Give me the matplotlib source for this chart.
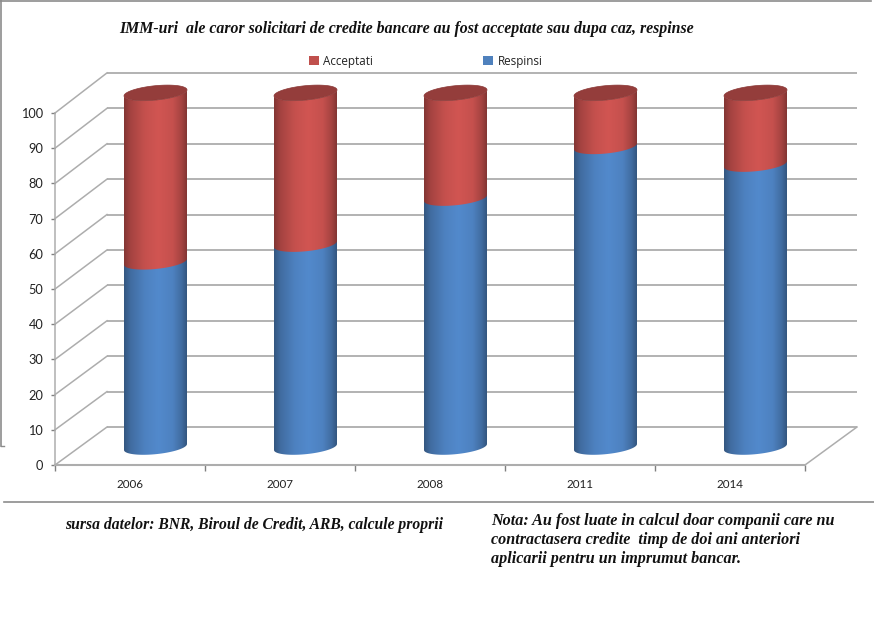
import numpy as np
import matplotlib
matplotlib.use("Agg")
import matplotlib.pyplot as plt
from matplotlib.path import Path
from matplotlib.patches import PathPatch, Patch
from matplotlib.lines import Line2D
from matplotlib.colors import to_rgb

# ---- data
years = ["2006", "2007", "2008", "2011", "2014"]
respinsi = [52.3, 57.3, 70.3, 84.9, 79.9]
acceptati = [47.7, 42.7, 29.7, 15.1, 20.1]
y_ticks = list(range(0, 101, 10))
title = "IMM-uri  ale caror solicitari de credite bancare au fost acceptate sau dupa caz, respinse"
source = "sursa datelor: BNR, Biroul de Credit, ARB, calcule proprii"
note = ["Nota: Au fost luate in calcul doar companii care nu",
        "contractasera credite  timp de doi ani anteriori",
        "aplicarii pentru un imprumut bancar."]

# ---- layout (pixels of the 874x636 canvas)
W, H = 874, 636
X0, PX_CAT = 55, 150      # pixel of category origin, pixels per category
Y0, PX_VAL = 465, 3.52    # pixel of value 0, pixels per value unit
GRID = "#adadad"
FRAME = "#8c8c8c"

fig = plt.figure(figsize=(W / 100, H / 100), dpi=100, facecolor="white")
ax = fig.add_axes([0, 0, 1, 1])
ax.set_facecolor("white")

# 3D depth of the chart box
dx = 52 / PX_CAT
dy = 38 / PX_VAL
wall_gain = 1.006
n = len(years)

# walls: gridlines and the diagonal connectors
for v in y_ticks:
    yb = v * wall_gain + dy
    ax.plot([dx, n + dx], [yb, yb], color=GRID, lw=1.3, zorder=1, solid_capstyle="butt")
    ax.plot([0, dx], [v, yb], color=GRID, lw=1.1, zorder=1)
ax.plot([n, n + dx], [0, dy], color=GRID, lw=1.1, zorder=1)

# axes
for s in ("top", "right"):
    ax.spines[s].set_visible(False)
ax.spines["left"].set_position(("data", 0))
ax.spines["bottom"].set_position(("data", 0))
ax.spines["left"].set_bounds(0, 100)
ax.spines["bottom"].set_bounds(0, n)
ax.spines["left"].set_color(GRID)
ax.spines["bottom"].set_color(GRID)
ax.spines["left"].set_linewidth(1.1)
ax.spines["bottom"].set_linewidth(1.5)
ax.set_yticks(y_ticks)
ax.set_yticklabels([str(v) for v in y_ticks], family="Lato", fontsize=9.2, color="#222222")
ax.set_xticks(range(n + 1))
ax.set_xticklabels([])
ax.set_xticks(np.arange(n) + 0.5, labels=years, minor=True, family="Lato", fontsize=8.4, color="#222222")
ax.tick_params(axis="y", length=3, width=1, color="#808080", pad=5.5)
ax.tick_params(axis="x", which="major", length=4, width=1, color="#808080")
ax.tick_params(axis="x", which="minor", length=0, pad=10)

# ---- cylinders
R = 31.5 / PX_CAT         # half width, category units
SHEAR = 3 / PX_VAL        # rise of the rim from centre to the right edge
MINOR = 7.2 / PX_VAL      # half depth of the rim
C_OFF = 0.67              # centre of cylinder within its category
BASE = 18 / PX_VAL        # lift of the cylinder bottom


def rim(cx, cy, t):
    return cx + R * np.cos(t), cy + SHEAR * np.cos(t) - MINOR * np.sin(t)


def lvl(v):
    return BASE + v * wall_gain


def shade(base, dark=0.66, bright=1.04):
    c = np.array(to_rgb(base))
    u = np.linspace(0, 1, 64)
    k = np.interp(u, [0, 0.10, 0.33, 0.55, 0.78, 0.92, 1],
                  [dark, 0.82, 0.98, bright, 0.98, 0.82, dark])
    return np.clip(c[None, None, :] * k[None, :, None], 0, 1)


def body(i, v0, v1, color, z):
    cx = i + C_OFF
    lower = np.linspace(np.pi, 0, 40)  # front arc, left to right
    xa, ya = rim(cx, lvl(v0), lower)
    xb, yb = rim(cx, lvl(v1), lower[::-1])
    poly = np.column_stack([np.r_[xa, xb], np.r_[ya, yb]])
    patch = PathPatch(Path(np.vstack([poly, poly[:1]]), closed=True), fc="none", ec="none")
    ax.add_patch(patch)
    im = ax.imshow(shade(color), extent=[cx - R, cx + R, lvl(v0) - 10, lvl(v1) + 10],
                   aspect="auto", zorder=z, interpolation="bilinear")
    im.set_clip_path(patch)


for i in range(n):
    total = respinsi[i] + acceptati[i]
    body(i, respinsi[i] - 2, total, "#c9524f", 3)
    body(i, 0, respinsi[i], "#4f84c4", 4)
    t = np.linspace(0, 2 * np.pi, 80)
    xt, yt = rim(i + C_OFF, lvl(total), t)
    ax.fill(xt, yt, fc="#943d3b", ec="#8a3735", lw=0.5, zorder=5)

# limits set last: map the whole canvas so the 3D parts can leave the plot box
ax.set_xlim(-X0 / PX_CAT, (W - X0) / PX_CAT)
ax.set_ylim(-(H - Y0) / PX_VAL, Y0 / PX_VAL)


# ---- figure furniture, in pixels
def px(x, y):
    return x / W, 1 - y / H


fig.add_artist(Line2D([0, 871 / W], [1 - 0.8 / H] * 2, color=FRAME, lw=1.2))
fig.add_artist(Line2D([1 / W, 1 / W], [1, 1 - 446 / H], color=FRAME, lw=1.2))
fig.add_artist(Line2D([1 / W, 3.5 / W], [1 - 446 / H] * 2, color=FRAME, lw=1.0))
fig.add_artist(Line2D([4 / W, 1], [1 - 501.5 / H] * 2, color=FRAME, lw=1.2))

serif = dict(family="Liberation Serif", style="italic", weight="bold", color="#111111")
fig.text(*px(119, 29), title, fontsize=11.48, va="center", ha="left", **serif)
fig.text(*px(65, 525), source, fontsize=11.28, va="center", ha="left", **serif)
for k, line in enumerate(note):
    fig.text(*px(491, 521 + 19 * k), line, fontsize=11.62, va="center", ha="left", **serif)

# legend
handles = [Patch(fc="#c0504d", label="Acceptati"), Patch(fc="#4f81bd", label="Respinsi")]
ax.legend(handles=handles, ncol=2, frameon=False, loc="center left",
          bbox_to_anchor=px(303, 61), bbox_transform=fig.transFigure,
          prop={"family": "Open Sans", "size": 8.4}, handlelength=0.85, handleheight=0.85,
          handletextpad=0.4, columnspacing=9.4, labelspacing=0, borderpad=0,
          labelcolor="#222222")

fig.savefig("out.png", dpi=100, facecolor="white")
